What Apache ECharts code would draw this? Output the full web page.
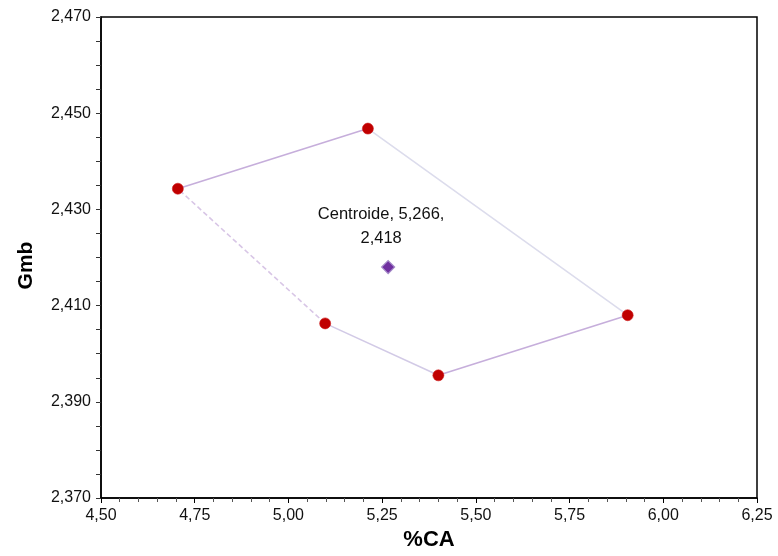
<!DOCTYPE html>
<html>
<head>
<meta charset="utf-8">
<script src="https://cdn.jsdelivr.net/npm/echarts@6/dist/echarts.min.js"></script>
<style>
  html, body { margin: 0; padding: 0; background: #fff; }
  #chart { width: 778px; height: 556px; }
</style>
</head>
<body>
<div id="chart"></div>
<script>
// Mix design polygon: asphalt content (%CA) vs bulk specific gravity (Gmb)
const vertexCA  = [4.705, 5.212, 5.905, 5.400, 5.098];
const vertexGmb = [2.4343, 2.4468, 2.4080, 2.3955, 2.4063];
const centroidName = 'Centroide';
const centroidCA = 5.266;
const centroidGmb = 2.418;

const xTicks = { min: 4.50, max: 6.25, step: 0.25 };
const yTicks = { min: 2.370, max: 2.470, step: 0.010, labelEvery: 2 };

const fmt = (v, d) => v.toFixed(d).replace('.', ',');

// edge styles, in vertex order (edge i joins vertex i to vertex i+1)
const edgeStyles = [
  { color: '#c6aedb', type: 'solid', width: 1.6 },
  { color: '#dcdcec', type: 'solid', width: 1.6 },
  { color: '#c6aedb', type: 'solid', width: 1.6 },
  { color: '#d2cae6', type: 'solid', width: 1.6 },
  { color: '#d8c6e6', type: [5, 3], width: 1.6 }
];

const series = [];
for (let i = 0; i < vertexCA.length; i++) {
  const j = (i + 1) % vertexCA.length;
  series.push({
    type: 'line',
    data: [[vertexCA[i], vertexGmb[i]], [vertexCA[j], vertexGmb[j]]],
    showSymbol: false,
    lineStyle: edgeStyles[i],
    z: 2,
    silent: true
  });
}
series.push({
  type: 'scatter',
  data: vertexCA.map((x, i) => [x, vertexGmb[i]]),
  symbol: 'circle',
  symbolSize: 11,
  itemStyle: { color: '#c00000', opacity: 1, borderColor: '#cc1818', borderWidth: 0.6 },
  z: 4
});
series.push({
  type: 'scatter',
  data: [[centroidCA, centroidGmb]],
  symbol: 'diamond',
  symbolSize: 13,
  itemStyle: { color: '#7030a0', opacity: 1, borderColor: '#a58bc8', borderWidth: 1.2 },
  label: {
    show: true,
    position: 'top',
    distance: 10,
    offset: [-7, 0],
    formatter: () => centroidName + ', ' + fmt(centroidCA, 3) + ',\n' + fmt(centroidGmb, 3),
    color: '#111',
    fontFamily: 'Liberation Sans, Arial, sans-serif',
    fontSize: 16.5,
    lineHeight: 24,
    align: 'center'
  },
  z: 5
});

const chart = echarts.init(document.getElementById('chart'), null, { renderer: 'canvas' });
chart.setOption({
  animation: false,
  backgroundColor: '#fff',
  grid: {
    left: 101, right: 21, top: 17, bottom: 57,
    show: true, borderColor: '#000', borderWidth: 1.5, backgroundColor: '#fff'
  },
  xAxis: {
    type: 'value',
    min: xTicks.min, max: xTicks.max, interval: xTicks.step,
    name: '%CA',
    nameLocation: 'middle',
    nameGap: 31,
    nameTextStyle: { fontFamily: 'Liberation Sans, Arial, sans-serif', fontSize: 22, fontWeight: 'bold', color: '#000' },
    axisLine: { show: true, lineStyle: { color: '#000', width: 1.5 } },
    axisTick: { show: true, length: 5, lineStyle: { color: '#000' } },
    minorTick: { show: true, splitNumber: 5, length: 4, lineStyle: { color: '#555' } },
    splitLine: { show: false },
    axisLabel: {
      margin: 10,
      fontFamily: 'Liberation Sans, Arial, sans-serif', fontSize: 16, color: '#111',
      formatter: v => fmt(v, 2)
    }
  },
  yAxis: {
    type: 'value',
    min: yTicks.min, max: yTicks.max, interval: yTicks.step,
    name: 'Gmb',
    nameLocation: 'middle',
    nameGap: 64,
    nameTextStyle: {
      fontFamily: 'Liberation Sans, Arial, sans-serif', fontSize: 21, fontWeight: 'bold', color: '#000',
      padding: [0, 16, 0, 0]
    },
    axisLine: { show: true, lineStyle: { color: '#000', width: 1.5 } },
    axisTick: { show: true, length: 5, lineStyle: { color: '#333' } },
    minorTick: { show: true, splitNumber: 2, length: 5, lineStyle: { color: '#333' } },
    splitLine: { show: false },
    axisLabel: {
      margin: 10,
      fontFamily: 'Liberation Sans, Arial, sans-serif', fontSize: 16, color: '#111',
      formatter: v => {
        const k = Math.round((v - yTicks.min) / yTicks.step);
        return k % yTicks.labelEvery === 0 ? fmt(v, 3) : '';
      }
    }
  },
  series: series
});
</script>
</body>
</html>
